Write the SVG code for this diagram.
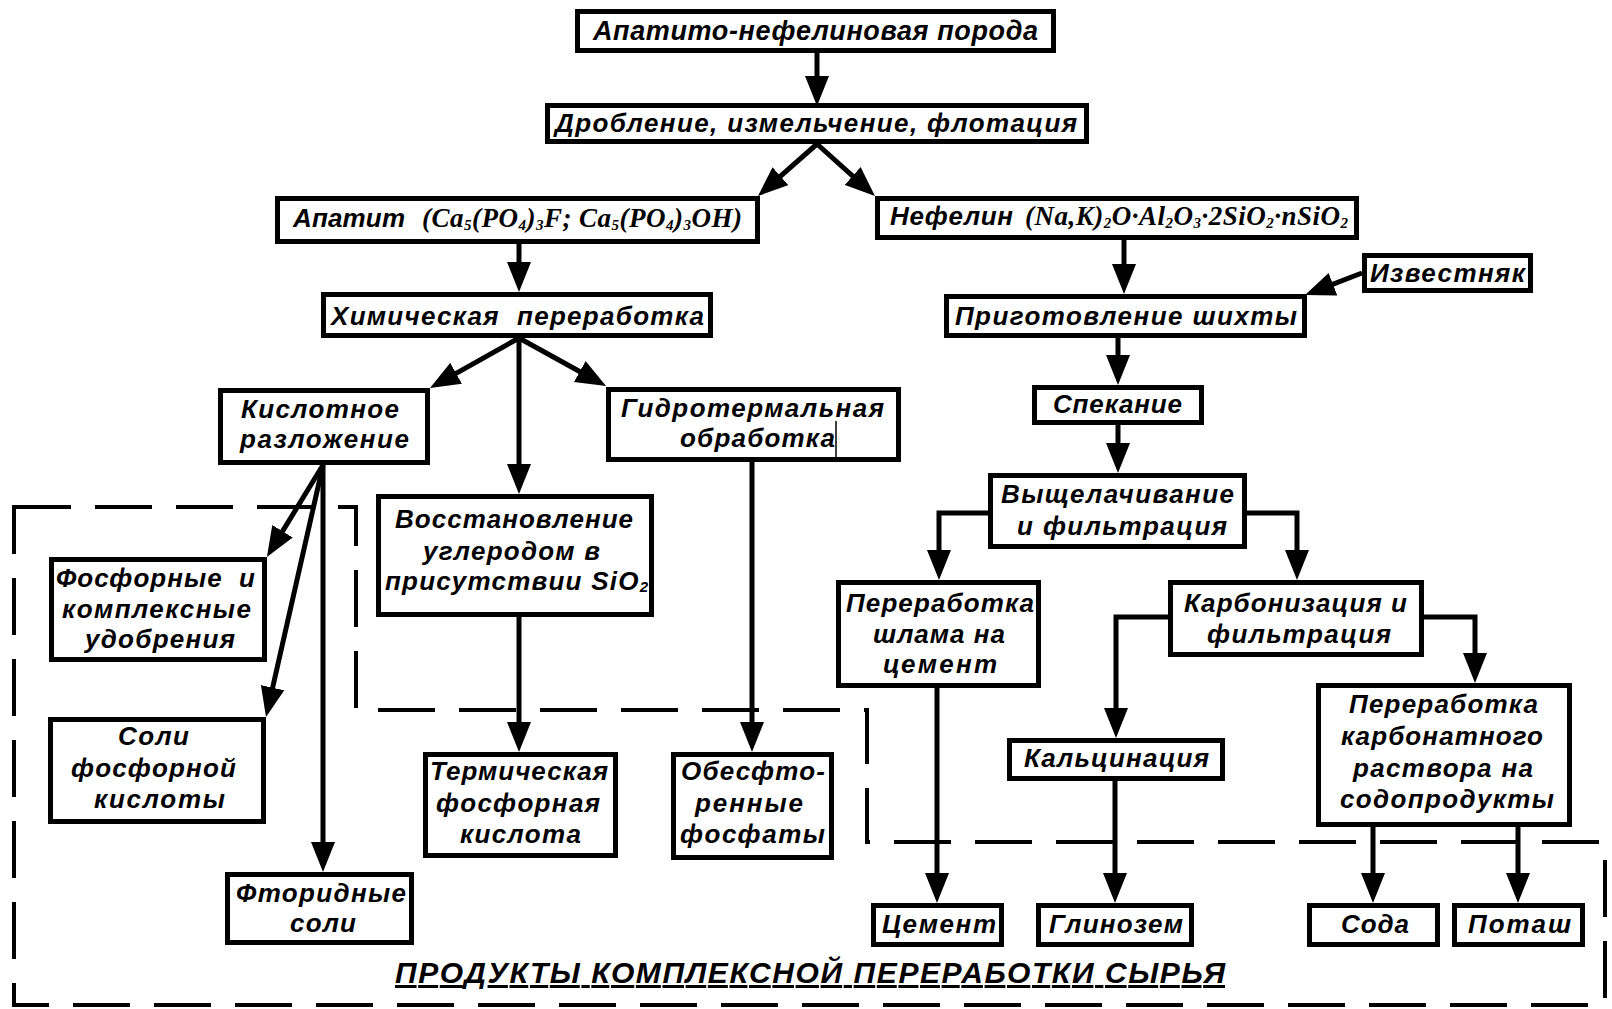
<svg xmlns="http://www.w3.org/2000/svg" width="1612" height="1009" viewBox="0 0 1612 1009">
<style>
.box{fill:#fff;stroke:#000;stroke-width:5}
.t{font-family:"Liberation Sans",Arial,sans-serif;font-weight:bold;font-style:italic;font-size:26px;fill:#000;text-anchor:middle}
.ts{text-anchor:start}
.f{font-family:"Liberation Serif","Times New Roman",serif;font-weight:bold;font-style:italic;font-size:27px;fill:#000}
.sub{font-size:15px}
.ln{fill:none;stroke:#000;stroke-width:5}
.dash{fill:none;stroke:#000;stroke-width:4;stroke-dasharray:57 24}
.cur{stroke:#000;stroke-width:1.5}
</style>
<defs>
<marker id="ah" viewBox="0 0 30 24" refX="20" refY="12" markerWidth="30" markerHeight="24" markerUnits="userSpaceOnUse" orient="auto">
<path d="M0,0 L30,12 L0,24 Z" fill="#000"/>
</marker>
</defs>
<rect width="1612" height="1009" fill="#fff"/>

<g id="products-region">
<path class="dash" d="M14 507 H356 V710 H867 V842 H1605 V1005 H14 Z"/>
<text class="t ts" x="395" y="983" style="font-size:30px;text-decoration:underline" textLength="830">ПРОДУКТЫ КОМПЛЕКСНОЙ ПЕРЕРАБОТКИ СЫРЬЯ</text>
</g>

<g id="connectors">
<path class="ln" marker-end="url(#ah)" d="M817 53 V96"/>
<path class="ln" marker-end="url(#ah)" d="M817 144 L765.5 189.4"/>
<path class="ln" marker-end="url(#ah)" d="M817 144 L867.5 189.3"/>
<path class="ln" marker-end="url(#ah)" d="M519 244 V282"/>
<path class="ln" marker-end="url(#ah)" d="M1124 240 V284"/>
<path class="ln" marker-end="url(#ah)" d="M1362 273 L1314.3 291.4"/>
<path class="ln" marker-end="url(#ah)" d="M519 338 L438.7 383.1"/>
<path class="ln" marker-end="url(#ah)" d="M519 338 V484"/>
<path class="ln" marker-end="url(#ah)" d="M519 338 L597.3 381.2"/>
<path class="ln" marker-end="url(#ah)" d="M323 465 L272.1 548.4"/>
<path class="ln" marker-end="url(#ah)" d="M323 465 L268.2 707.2"/>
<path class="ln" marker-end="url(#ah)" d="M323 465 V862"/>
<path class="ln" marker-end="url(#ah)" d="M519 617 V742"/>
<path class="ln" marker-end="url(#ah)" d="M752 462 V742"/>
<path class="ln" marker-end="url(#ah)" d="M1118 338 V375"/>
<path class="ln" marker-end="url(#ah)" d="M1118 425 V463"/>
<path class="ln" marker-end="url(#ah)" d="M988 513 H939 V570"/>
<path class="ln" marker-end="url(#ah)" d="M1247 513 H1297 V570"/>
<path class="ln" marker-end="url(#ah)" d="M1168 617 H1116 V728"/>
<path class="ln" marker-end="url(#ah)" d="M1424 617 H1475 V673"/>
<path class="ln" marker-end="url(#ah)" d="M937 688 V893"/>
<path class="ln" marker-end="url(#ah)" d="M1115 781 V893"/>
<path class="ln" marker-end="url(#ah)" d="M1373 827 V893"/>
<path class="ln" marker-end="url(#ah)" d="M1518 827 V893"/>
</g>

<g id="n-rock">
<rect class="box" x="577.5" y="11.5" width="476" height="39"/>
<text class="t" x="815.5" y="40" style="font-size:27px" textLength="445">Апатито-нефелиновая порода</text>
</g>
<g id="n-crushing">
<rect class="box" x="547.5" y="105.5" width="539" height="36"/>
<text class="t" x="816" y="132" textLength="522">Дробление, измельчение, флотация</text>
</g>
<g id="n-apatite">
<rect class="box" x="277.5" y="198.5" width="480" height="43"/>
<text class="t ts" x="293" y="227" textLength="112">Апатит</text>
<text class="f" x="422" y="227" textLength="320">(Ca<tspan class="sub" dy="3">5</tspan><tspan dy="-3">(PO</tspan><tspan class="sub" dy="3">4</tspan><tspan dy="-3">)</tspan><tspan class="sub" dy="3">3</tspan><tspan dy="-3">F; Ca</tspan><tspan class="sub" dy="3">5</tspan><tspan dy="-3">(PO</tspan><tspan class="sub" dy="3">4</tspan><tspan dy="-3">)</tspan><tspan class="sub" dy="3">3</tspan><tspan dy="-3">OH)</tspan></text>
</g>
<g id="n-nepheline">
<rect class="box" x="877.5" y="198.5" width="479" height="39"/>
<text class="t ts" x="890" y="225" textLength="123">Нефелин</text>
<text class="f" x="1025" y="225" textLength="323">(Na,K)<tspan class="sub" dy="3">2</tspan><tspan dy="-3">O·Al</tspan><tspan class="sub" dy="3">2</tspan><tspan dy="-3">O</tspan><tspan class="sub" dy="3">3</tspan><tspan dy="-3">·2SiO</tspan><tspan class="sub" dy="3">2</tspan><tspan dy="-3">·nSiO</tspan><tspan class="sub" dy="3">2</tspan></text>
</g>
<g id="n-chem">
<rect class="box" x="323.5" y="294.5" width="387" height="41"/>
<text class="t" x="517.5" y="325" textLength="373" xml:space="preserve">Химическая  переработка</text>
</g>
<g id="n-limestone">
<rect class="box" x="1364.5" y="255.5" width="166" height="35"/>
<text class="t" x="1447.5" y="282" textLength="155">Известняк</text>
</g>
<g id="n-charge">
<rect class="box" x="946.5" y="296.5" width="358" height="39"/>
<text class="t" x="1126" y="325" textLength="342">Приготовление шихты</text>
</g>
<g id="n-acid">
<rect class="box" x="220.5" y="390.5" width="207" height="72"/>
<text class="t" x="320" y="418" textLength="158">Кислотное</text>
<text class="t" x="324.5" y="448" textLength="169">разложение</text>
</g>
<g id="n-hydro">
<rect class="box" x="608.5" y="389.5" width="290" height="70"/>
<text class="t" x="752.5" y="417" textLength="263">Гидротермальная</text>
<text class="t" x="757.5" y="447" textLength="155">обработка</text>
<line class="cur" x1="836" y1="421" x2="836" y2="460"/>
</g>
<g id="n-reduction">
<rect class="box" x="378.5" y="496.5" width="273" height="118"/>
<text class="t" x="514" y="528" textLength="238">Восстановление</text>
<text class="t" x="511.5" y="560" textLength="177">углеродом в</text>
<text class="t" x="516.5" y="590" textLength="263">присутствии SiO<tspan class="sub" dy="2">2</tspan></text>
</g>
<g id="n-fertilizers">
<rect class="box" x="51.5" y="559.5" width="213" height="100"/>
<text class="t" x="155.5" y="587" textLength="199" xml:space="preserve">Фосфорные  и</text>
<text class="t" x="156.5" y="618" textLength="189">комплексные</text>
<text class="t" x="160" y="648" textLength="150">удобрения</text>
</g>
<g id="n-salts">
<rect class="box" x="50.5" y="719.5" width="213" height="102"/>
<text class="t" x="153.5" y="745" textLength="71">Соли</text>
<text class="t" x="153.5" y="777" textLength="165">фосфорной</text>
<text class="t" x="159.5" y="808" textLength="131">кислоты</text>
</g>
<g id="n-fluoride">
<rect class="box" x="227.5" y="874.5" width="184" height="68"/>
<text class="t" x="321" y="902" textLength="170">Фторидные</text>
<text class="t" x="323" y="932" textLength="66">соли</text>
</g>
<g id="n-thermal">
<rect class="box" x="425.5" y="754.5" width="190" height="101"/>
<text class="t" x="519" y="780" textLength="178">Термическая</text>
<text class="t" x="518" y="812" textLength="164">фосфорная</text>
<text class="t" x="520.5" y="843" textLength="121">кислота</text>
</g>
<g id="n-defluor">
<rect class="box" x="673.5" y="754.5" width="158" height="103"/>
<text class="t" x="753" y="780" textLength="144">Обесфто-</text>
<text class="t" x="749" y="812" textLength="108">ренные</text>
<text class="t" x="752.5" y="843" textLength="145">фосфаты</text>
</g>
<g id="n-sinter">
<rect class="box" x="1034.5" y="387.5" width="167" height="35"/>
<text class="t" x="1117.5" y="413" textLength="129">Спекание</text>
</g>
<g id="n-leach">
<rect class="box" x="990.5" y="475.5" width="254" height="71"/>
<text class="t" x="1117.5" y="503" textLength="233">Выщелачивание</text>
<text class="t" x="1122" y="535" textLength="210">и фильтрация</text>
</g>
<g id="n-sludge">
<rect class="box" x="838.5" y="582.5" width="200" height="103"/>
<text class="t" x="940" y="612" textLength="188">Переработка</text>
<text class="t" x="939" y="643" textLength="132">шлама на</text>
<text class="t" x="940" y="673" textLength="114">цемент</text>
</g>
<g id="n-carbon">
<rect class="box" x="1170.5" y="582.5" width="251" height="72"/>
<text class="t" x="1295.5" y="612" textLength="223">Карбонизация и</text>
<text class="t" x="1299" y="643" textLength="184">фильтрация</text>
</g>
<g id="n-calc">
<rect class="box" x="1009.5" y="740.5" width="213" height="38"/>
<text class="t" x="1116.5" y="767" textLength="185">Кальцинация</text>
</g>
<g id="n-soda-proc">
<rect class="box" x="1318.5" y="685.5" width="251" height="139"/>
<text class="t" x="1443.5" y="713" textLength="189">Переработка</text>
<text class="t" x="1442" y="745" textLength="202">карбонатного</text>
<text class="t" x="1443" y="777" textLength="180">раствора на</text>
<text class="t" x="1447" y="808" textLength="214">содопродукты</text>
</g>
<g id="n-cement">
<rect class="box" x="873.5" y="905.5" width="128" height="39"/>
<text class="t" x="939" y="933" textLength="114">Цемент</text>
</g>
<g id="n-alumina">
<rect class="box" x="1038.5" y="905.5" width="153" height="39"/>
<text class="t" x="1116" y="933" textLength="134">Глинозем</text>
</g>
<g id="n-soda">
<rect class="box" x="1309.5" y="905.5" width="128" height="39"/>
<text class="t" x="1375" y="933" textLength="68">Сода</text>
</g>
<g id="n-potash">
<rect class="box" x="1454.5" y="905.5" width="128" height="39"/>
<text class="t" x="1519.5" y="933" textLength="103">Поташ</text>
</g>
</svg>
